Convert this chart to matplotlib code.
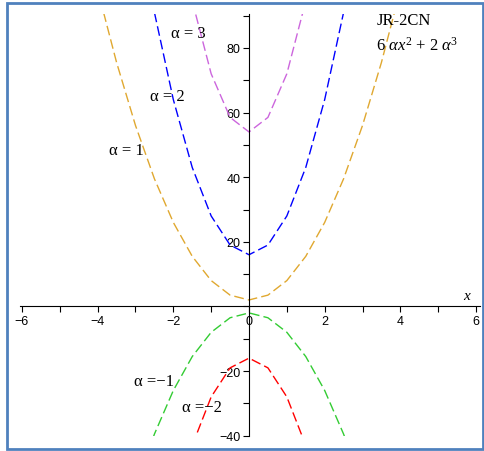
import matplotlib.pyplot as plt
from matplotlib.patches import Rectangle
from matplotlib.ticker import MultipleLocator

plt.rcParams['mathtext.fontset'] = 'custom'
plt.rcParams['mathtext.rm'] = 'Liberation Serif'
plt.rcParams['mathtext.it'] = 'Liberation Serif:italic'

# sample points, y = 6*a*x^2 + 2*a^3
x_a1 = [-4.5, -4, -3.5, -3, -2.5, -2, -1.5, -1, -0.5, 0, 0.5, 1, 1.5, 2, 2.5, 3, 3.5, 4, 4.5]
y_a1 = [123.5, 98, 75.5, 56, 39.5, 26, 15.5, 8, 3.5, 2, 3.5, 8, 15.5, 26, 39.5, 56, 75.5, 98, 123.5]

x_a2 = [-3, -2.5, -2, -1.5, -1, -0.5, 0, 0.5, 1, 1.5, 2, 2.5, 3]
y_a2 = [124, 91, 64, 43, 28, 19, 16, 19, 28, 43, 64, 91, 124]

x_a3 = [-1.5, -1, -0.5, 0, 0.5, 1, 1.5]
y_a3 = [94.5, 72, 58.5, 54, 58.5, 72, 94.5]

x_m1 = [-3, -2.5, -2, -1.5, -1, -0.5, 0, 0.5, 1, 1.5, 2, 2.5, 3]
y_m1 = [-56, -39.5, -26, -15.5, -8, -3.5, -2, -3.5, -8, -15.5, -26, -39.5, -56]

x_m2 = [-1.5, -1, -0.5, 0, 0.5, 1, 1.5]
y_m2 = [-43, -28, -19, -16, -19, -28, -43]

curves = [(x_a1, y_a1, '#e0a830'), (x_a2, y_a2, '#0000ff'), (x_a3, y_a3, '#cc66dd'),
          (x_m1, y_m1, '#33cc33'), (x_m2, y_m2, '#ff0000')]

labels = ['\u03b1 = 1', '\u03b1 = 2', '\u03b1 = 3', '\u03b1 =\u22121', '\u03b1 =\u22122']
label_xy = [(-3.25, 48.5), (-2.15, 65), (-1.6, 84.5), (-2.5, -23), (-1.25, -31)]

W, H = 485, 452
fig = plt.figure(figsize=(W / 100, H / 100), dpi=100)
ax = fig.add_axes([20.1 / W, (H - 436.7) / H, (479.8 - 20.1) / W, (436.7 - 15) / H])
ax.set_xlim(-6.05, 6.1)
ax.set_ylim(-40, 90.5)

for xs, ys, c in curves:
    ax.plot(xs, ys, color=c, lw=1, dashes=(7, 3))

ax.spines['top'].set_visible(False)
ax.spines['right'].set_visible(False)
ax.spines['left'].set_position(('data', 0))
ax.spines['bottom'].set_position(('data', 0))
ax.patch.set_visible(False)

ax.xaxis.set_major_locator(MultipleLocator(2))
ax.xaxis.set_minor_locator(MultipleLocator(1))
ax.yaxis.set_major_locator(MultipleLocator(20))
ax.yaxis.set_minor_locator(MultipleLocator(10))
ax.tick_params(which='both', direction='out', length=4, width=0.8, labelsize=9, pad=2)
ax.set_yticks([-40, -20, 20, 40, 60, 80])
ax.set_yticklabels(['\u221240', '\u221220', '20', '40', '60', '80'], fontfamily='Liberation Sans')
ax.set_xticks([-6, -4, -2, 0, 2, 4, 6])
ax.set_xticklabels(['\u22126', '\u22124', '\u22122', '0', '2', '4', '6'], fontfamily='Liberation Sans')

ax.text(5.75, 1.5, 'x', fontsize=11, style='italic', fontfamily='Liberation Serif', ha='center', va='bottom')

for s, (tx, ty) in zip(labels, label_xy):
    ax.text(tx, ty, s, fontsize=12, fontfamily='Liberation Serif', ha='center', va='center')

ax.text(3.36, 88.5, 'JR-2CN', fontsize=12, fontfamily='Liberation Serif', ha='left', va='center')
ax.text(3.36, 81, r'6 $\alpha x^2$ + 2 $\alpha^3$', fontsize=12, fontfamily='Liberation Serif',
        ha='left', va='center')

fig.patches.append(Rectangle((7 / W, 2 / H), (476 / W), (446 / H), transform=fig.transFigure,
                             fill=False, edgecolor='#4f81bd', lw=2))

fig.savefig('out.png', dpi=100)
